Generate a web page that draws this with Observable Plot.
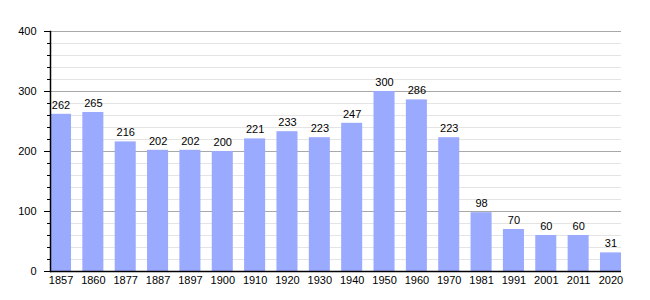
<!DOCTYPE html>
<html><head><meta charset="utf-8">
<script src="https://cdn.jsdelivr.net/npm/d3@7"></script>
<script src="https://cdn.jsdelivr.net/npm/@observablehq/plot@0.6"></script>
<style>body{margin:0;background:#fff}</style>
</head><body><div id="chart"></div>
<script>
const years = ["1857","1860","1877","1887","1897","1900","1910","1920","1930","1940","1950","1960","1970","1981","1991","2001","2011","2020"];
const population = [262,265,216,202,202,200,221,233,223,247,300,286,223,98,70,60,60,31];
const majorTicks = [0,100,200,300,400];
const minorTicks = d3.range(0,401,20).filter(v => v % 100 !== 0);

const data = years.map((y,i) => ({year: y, value: population[i]}));

const chart = Plot.plot({
  width: 650, height: 300,
  marginLeft: 50, marginRight: 29, marginTop: 31, marginBottom: 29,
  style: {fontFamily: "'Liberation Sans', Arial, sans-serif", fontSize: "11px", color: "#000", background: "#fff"},
  x: {domain: years, paddingInner: 0.35, paddingOuter: 0, round: false, label: null},
  y: {domain: [0,400], label: null},
  marks: [
    Plot.ruleY(minorTicks, {stroke: "#e4e4e4", strokeWidth: 1}),
    Plot.ruleY(majorTicks.filter(v => v > 0), {stroke: "#a8a8a8", strokeWidth: 1}),
    Plot.barY(data, {x: "year", y: "value", fill: "#99aaff"}),
    Plot.text(data, {x: "year", y: "value", text: d => String(d.value), dy: -9, fill: "#000", fontSize: 11}),
    Plot.axisY(minorTicks, {tickSize: 3, tickFormat: () => "", stroke: "#000"}),
    Plot.axisY(majorTicks, {tickSize: 6, tickPadding: 8, stroke: "#000", fill: "#000", fontSize: 11}),
    Plot.axisX({tickSize: 0, tickPadding: 5, fill: "#000", fontSize: 11}),
    Plot.ruleY([0], {stroke: "#000", strokeWidth: 1.5}),
    Plot.frame({anchor: "left", stroke: "#000", strokeWidth: 1.5})
  ]
});
document.getElementById("chart").appendChild(chart);
</script>
</body></html>
